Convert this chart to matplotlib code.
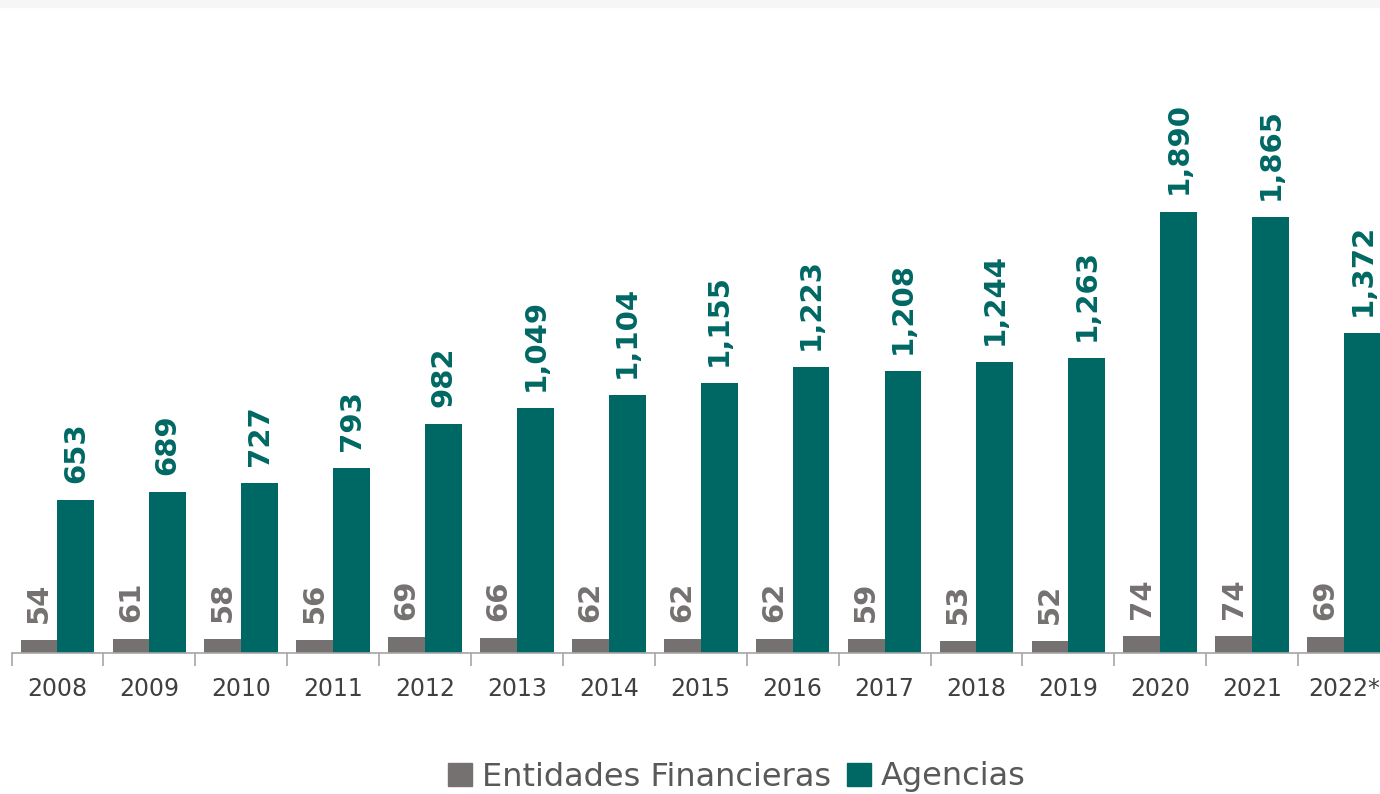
import matplotlib
matplotlib.use("Agg")
import matplotlib.pyplot as plt
from matplotlib.patches import Patch, Rectangle
import numpy as np

years = ["2008", "2009", "2010", "2011", "2012", "2013", "2014", "2015",
         "2016", "2017", "2018", "2019", "2020", "2021", "2022*"]
entidades = [54, 61, 58, 56, 69, 66, 62, 62, 62, 59, 53, 52, 74, 74, 69]
agencias = [653, 689, 727, 793, 982, 1049, 1104, 1155, 1223, 1208, 1244, 1263, 1890, 1865, 1372]
series_names = ["Entidades Financieras", "Agencias"]

GRAY = "#767171"
TEAL = "#006864"

W, H = 1380, 794
fig = plt.figure(figsize=(W / 100, H / 100), dpi=100)
fig.patch.set_facecolor("white")
# faint band at top of the original image
fig.patches.append(Rectangle((0, 1 - 7 / H), 1, 7 / H, transform=fig.transFigure,
                             color="#f6f6f6", zorder=0))

n = len(years)
step = 91.9
left_px = 11.5
axis_y = 653
ax = fig.add_axes([left_px / W, (H - axis_y) / H, n * step / W, axis_y / H])

x = np.arange(n)
bw = 0.4
ax.bar(x - bw / 2, entidades, bw, color=GRAY, zorder=2)
ax.bar(x + bw / 2, agencias, bw, color=TEAL, zorder=2)

ppu = 441.5 / 1890
ax.set_xlim(-0.5, n - 0.5)
ax.set_ylim(0, axis_y / ppu)

off = 17 / ppu
for i in range(n):
    ax.text(x[i] - bw / 2, entidades[i] + off, f"{entidades[i]:,}", rotation=90,
            ha="center", va="bottom", fontsize=21, fontweight="heavy", color=GRAY)
    ax.text(x[i] + bw / 2, agencias[i] + off, f"{agencias[i]:,}", rotation=90,
            ha="center", va="bottom", fontsize=21, fontweight="heavy", color=TEAL)

for s in ["top", "right", "left"]:
    ax.spines[s].set_visible(False)
ax.spines["bottom"].set_color("#a6a6a6")
ax.spines["bottom"].set_linewidth(1.2)
ax.set_yticks([])
ax.set_xticks(np.arange(-0.5, n, 1.0))
ax.set_xticklabels([])
ax.set_xticks(x, minor=True)
ax.set_xticklabels(years, minor=True, fontsize=17, color="#404040")
ax.tick_params(axis="x", which="major", length=9, color="#a6a6a6", width=1.2)
ax.tick_params(axis="x", which="minor", length=0, pad=17)

handles = [Patch(color=GRAY, label=series_names[0]), Patch(color=TEAL, label=series_names[1])]
fig.legend(handles=handles, loc="center", bbox_to_anchor=(0.534, 1 - 777 / H), ncol=2,
           frameon=False, fontsize=23, labelcolor="#595959", handlelength=0.75,
           handleheight=0.75, handletextpad=0.3, columnspacing=0.5)

fig.savefig("out.png", dpi=100, facecolor="white")
